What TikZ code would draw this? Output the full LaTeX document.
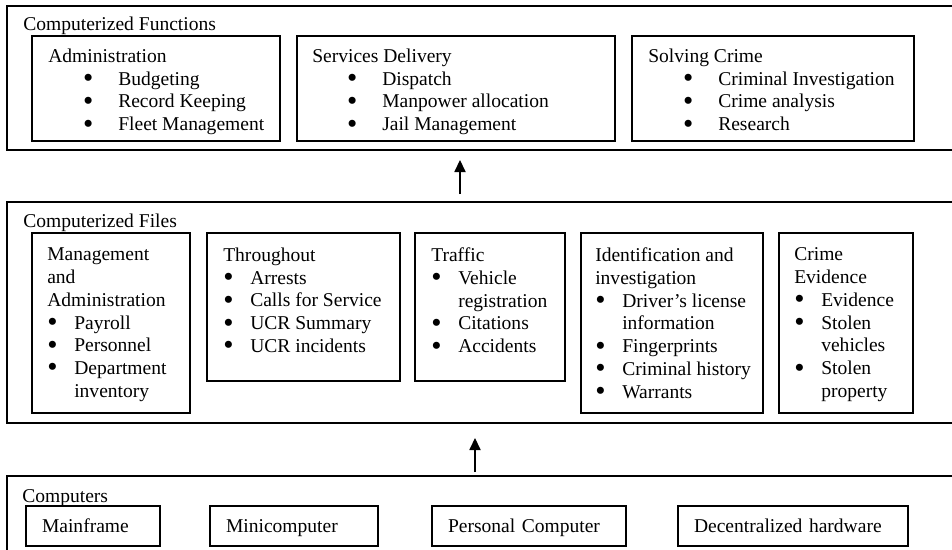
\documentclass[tikz,border=0pt]{standalone}
\usepackage{fontspec}
\setmainfont{Liberation Serif}
\usetikzlibrary{positioning,arrows.meta}

\newcommand{\bul}{\smash{\raisebox{-0.12em}{\scalebox{1.5}{\textbullet}}}}
\newcommand{\fitem}[1]{\hspace*{0.87cm}\makebox[0.88cm][l]{\bul}#1}
\newcommand{\mitem}[1]{\makebox[0.675cm][l]{\bul}#1}
\newcommand{\mcont}[1]{\hspace*{0.675cm}#1}

\begin{document}
\begin{tikzpicture}[
  every node/.style={font=\fontsize{13.9}{16.2}\selectfont, inner sep=0pt},
  outbox/.style={draw, line width=0.8pt, outer sep=0pt, anchor=north west, minimum width=24.075cm},
  cellbox/.style={draw, line width=0.8pt, outer sep=0pt},
  boxtext/.style={align=left},
  compbox/.style={cellbox, minimum height=1cm, text width=#1, inner xsep=0.4cm,
    text height=0.34cm, text depth=0pt, align=left},
  uparrow/.style={-{Triangle[length=0.3cm,width=0.28cm]}, line width=0.8pt}]
% Set the picture size
\useasboundingbox (0,0) rectangle (23.8,-13.725);
\clip (0,0) rectangle (23.8,-13.725);

% Draw the three layers
\node[outbox, minimum height=3.6cm] (funcs) at (0.175,-0.15) {};
\node[outbox, minimum height=5.525cm] (files) at (0.175,-5.05) {};
\node[outbox, minimum height=2.5cm] (comps) at (0.175,-11.9) {};
\node[boxtext, below right=0.265cm and 0.4cm of funcs.north west] (funcstitle) {Computerized Functions};
\node[boxtext, below right=0.29cm and 0.4cm of files.north west] (filestitle) {Computerized Files};
\node[boxtext, below right=0.34cm and 0.375cm of comps.north west] (compstitle) {Computers};

% Computerized functions
\node[cellbox, anchor=north west, minimum width=6.2cm, minimum height=2.625cm,
  below right=0.75cm and 0.625cm of funcs.north west] (adm) {};
\node[cellbox, minimum width=7.95cm, minimum height=2.625cm, right=0.425cm of adm] (srv) {};
\node[cellbox, minimum width=7.05cm, minimum height=2.625cm, right=0.425cm of srv] (slv) {};
\node[boxtext, below right=0.315cm and 0.4cm of adm.north west] (admtext)
  {Administration\\ \fitem{Budgeting}\\ \fitem{Record Keeping}\\ \fitem{Fleet Management}};
\node[boxtext, below right=0.315cm and 0.375cm of srv.north west] (srvtext)
  {Services Delivery\\ \fitem{Dispatch}\\ \fitem{Manpower allocation}\\ \fitem{Jail Management}};
\node[boxtext, below right=0.315cm and 0.4cm of slv.north west] (slvtext)
  {Solving Crime\\ \fitem{Criminal Investigation}\\ \fitem{Crime analysis}\\ \fitem{Research}};

% Computerized files
\node[cellbox, minimum width=3.95cm, minimum height=4.5cm,
  below right=0.775cm and 0.625cm of files.north west] (mgt) {};
\node[cellbox, minimum width=4.825cm, minimum height=3.7cm,
  right=0.425cm of mgt.north east, anchor=north west] (thr) {};
\node[cellbox, minimum width=3.75cm, minimum height=3.7cm,
  right=0.375cm of thr.north east, anchor=north west] (trf) {};
\node[cellbox, minimum width=4.55cm, minimum height=4.5cm,
  right=0.4cm of trf.north east, anchor=north west] (idn) {};
\node[cellbox, minimum width=3.35cm, minimum height=4.5cm,
  right=0.4cm of idn.north east, anchor=north west] (evd) {};
\node[boxtext, below right=0.365cm and 0.375cm of mgt.north west] (mgttext)
  {Management\\and\\Administration\\ \mitem{Payroll}\\ \mitem{Personnel}\\ \mitem{Department}\\ \mcont{inventory}};
\node[boxtext, below right=0.365cm and 0.4cm of thr.north west] (thrtext)
  {Throughout\\ \mitem{Arrests}\\ \mitem{Calls for Service}\\ \mitem{UCR Summary}\\ \mitem{UCR incidents}};
\node[boxtext, below right=0.365cm and 0.4cm of trf.north west] (trftext)
  {Traffic\\ \mitem{Vehicle}\\ \mcont{registration}\\ \mitem{Citations}\\ \mitem{Accidents}};
\node[boxtext, below right=0.365cm and 0.35cm of idn.north west] (idntext)
  {Identification and\\investigation\\ \mitem{Driver’s license}\\ \mcont{information}\\ \mitem{Fingerprints}\\ \mitem{Criminal history}\\ \mitem{Warrants}};
\node[boxtext, below right=0.365cm and 0.375cm of evd.north west] (evdtext)
  {Crime\\Evidence\\ \mitem{Evidence}\\ \mitem{Stolen}\\ \mcont{vehicles}\\ \mitem{Stolen}\\ \mcont{property}};

% Computers
\node[compbox=2.55cm, below right=0.75cm and 0.475cm of comps.north west] (mainframe) {Mainframe};
\node[compbox=3.4cm, right=1.25cm of mainframe] (mini) {Minicomputer};
\node[compbox=4.05cm, right=1.35cm of mini] (pc) {Personal Computer};
\node[compbox=4.95cm, right=1.3cm of pc] (dec) {Decentralized hardware};

% Arrows between the layers
\coordinate (ax1) at (11.5,0);
\coordinate (ax2) at (11.875,0);
\draw[uparrow, shorten <=0.2cm, shorten >=0.25cm] (files.north -| ax1) -- (funcs.south -| ax1);
\draw[uparrow, shorten <=0.1cm, shorten >=0.375cm] (comps.north -| ax2) -- (files.south -| ax2);
\end{tikzpicture}
\end{document}
